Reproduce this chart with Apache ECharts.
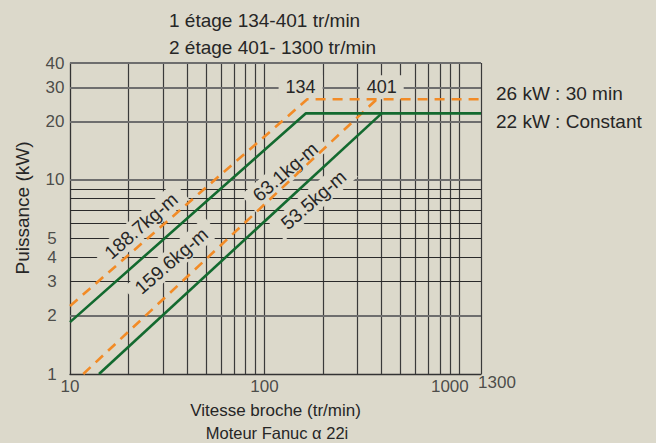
<!DOCTYPE html>
<html>
<head>
<meta charset="utf-8">
<script src="https://cdn.jsdelivr.net/npm/echarts@6/dist/echarts.min.js"></script>
<style>
html,body{margin:0;padding:0;background:#dcd9cb;}
#c{width:656px;height:443px;}
</style>
</head>
<body>
<div id="c"></div>
<script>
// ---- data ----
const xTicks = [10, 100, 1000, 1300];
const yTicks = [1, 2, 3, 4, 5, 10, 20, 30, 40];
const xGrid = [20, 30, 40, 50, 60, 70, 80, 90, 100, 200, 300, 400, 500, 600, 700, 800, 900, 1000, 1300];
const yGrid = [2, 3, 4, 5, 6, 7, 8, 9, 10, 20, 30, 40];
// torque lines (speed tr/min, power kW)
const green188 = [[10, 1.85], [163, 22], [1300, 22]];
const orange188 = [[10, 2.24], [166, 26], [1300, 26]];
const green53 = [[14.1, 1], [401, 22]];
const orange63 = [[11.7, 1], [378, 26]];
// annotations: [speed, power, text]
const slopeLabels = [[23.2, 5.79, '188.7kg-m'], [33.2, 3.82, '159.6kg-m'], [128, 11.0, '63.1kg-m'], [179, 7.88, '53.5kg-m']];
const cornerLabels = [[153.5, 30, '134'], [401, 30, '401']];

const BG = '#dcd9cb';
const TXT = '#262626';
const FONT = 'Liberation Sans';
const GREEN = '#136a2f';
const ORANGE = '#f28b26';

const chart = echarts.init(document.getElementById('c'), null, {renderer: 'svg'});

const xTickOffsets = {10: [0, 12], 100: [0, 12], 1000: [-9, 12], 1300: [16, 8]};

const baseGraphic = [
  {type: 'text', x: 169, y: 20, style: {text: '1 étage 134-401 tr/min', font: '19px "Liberation Sans"', fill: TXT, verticalAlign: 'middle'}},
  {type: 'text', x: 169, y: 47, style: {text: '2 étage 401- 1300 tr/min', font: '19px "Liberation Sans"', fill: TXT, verticalAlign: 'middle'}},
  {type: 'text', x: 496, y: 93, style: {text: '26 kW : 30 min', font: '19px "Liberation Sans"', fill: TXT, verticalAlign: 'middle'}},
  {type: 'text', x: 496, y: 121, style: {text: '22 kW : Constant', font: '19px "Liberation Sans"', fill: TXT, verticalAlign: 'middle'}},
  {type: 'text', x: 22, y: 208, rotation: Math.PI / 2, style: {text: 'Puissance (kW)', font: '19px "Liberation Sans"', fill: TXT, align: 'center', verticalAlign: 'middle'}},
  {type: 'text', x: 277, y: 433, style: {text: 'Moteur Fanuc α 22i', font: '16.5px "Liberation Sans"', fill: TXT, align: 'center', verticalAlign: 'middle'}}
];

chart.setOption({
  backgroundColor: BG,
  animation: false,
  textStyle: {fontFamily: FONT, color: TXT},
  grid: {left: 70, right: 175, top: 63, bottom: 69},
  xAxis: {
    type: 'log', logBase: 10, min: 10, max: 1300,
    axisLine: {show: true, lineStyle: {color: '#333', width: 1.3}},
    axisTick: {show: false}, axisLabel: {show: false}, splitLine: {show: false},
    name: 'Vitesse broche (tr/min)', nameLocation: 'middle', nameGap: 28,
    nameTextStyle: {fontFamily: FONT, fontSize: 17, color: TXT}
  },
  yAxis: {
    type: 'log', logBase: 10, min: 1, max: 40,
    axisLine: {show: true, lineStyle: {color: '#333', width: 1.3}},
    axisTick: {show: false}, axisLabel: {show: false}, splitLine: {show: false}
  },
  graphic: baseGraphic,
  series: [
    {
      type: 'line', data: [], z: 1, silent: true,
      markLine: {
        silent: true, symbol: 'none', animation: false, z: 1,
        label: {show: false},
        lineStyle: {color: '#3a3a3a', width: 1.2, type: 'solid'},
        data: xGrid.map(v => ({xAxis: v})).concat(yGrid.map(v => ({yAxis: v, lineStyle: {color: (v === 2 || v >= 10) ? '#6e6e6e' : '#2a2a2a', width: (v === 2 || v >= 10) ? 1.8 : 1.1}})))
      }
    },
    {
      type: 'scatter', z: 3, symbolSize: 0, silent: true,
      data: yTicks.map(v => ({value: [10, v], label: {offset: [v >= 10 ? -15 : -18, 0]}})),
      label: {show: true, position: 'inside', formatter: p => String(p.value[1]),
        fontFamily: FONT, fontSize: 17, color: TXT}
    },
    {
      type: 'scatter', z: 3, symbolSize: 0, silent: true,
      data: xTicks.map(v => ({value: [v, 1], label: {offset: xTickOffsets[v]}})),
      label: {show: true, position: 'inside', formatter: p => String(p.value[0]),
        fontFamily: FONT, fontSize: 17, color: TXT}
    },
    {type: 'line', z: 5, data: orange188, symbol: 'none', lineStyle: {color: ORANGE, width: 2.6, type: [10, 7]}},
    {type: 'line', z: 5, data: orange63, symbol: 'none', lineStyle: {color: ORANGE, width: 2.6, type: [10, 7]}},
    {type: 'line', z: 6, data: green188, symbol: 'none', lineStyle: {color: GREEN, width: 2.6}},
    {type: 'line', z: 6, data: green53, symbol: 'none', lineStyle: {color: GREEN, width: 2.6}}
  ]
});

// annotation labels placed through the chart's own log scales
const annot = [];
slopeLabels.forEach(d => {
  const p = chart.convertToPixel({gridIndex: 0}, [d[0], d[1]]);
  annot.push({type: 'text', x: p[0], y: p[1], rotation: 41 * Math.PI / 180, z: 4,
    style: {text: d[2], font: '19px "Liberation Sans"', fill: TXT, align: 'center', verticalAlign: 'middle',
      backgroundColor: BG, padding: [2, 9]}});
});
cornerLabels.forEach(d => {
  const p = chart.convertToPixel({gridIndex: 0}, [d[0], d[1]]);
  annot.push({type: 'text', x: p[0], y: p[1], z: 4,
    style: {text: d[2], font: '18px "Liberation Sans"', fill: TXT, align: 'center', verticalAlign: 'middle',
      backgroundColor: BG, padding: [3, 7]}});
});
chart.setOption({graphic: baseGraphic.concat(annot)});
</script>
</body>
</html>
